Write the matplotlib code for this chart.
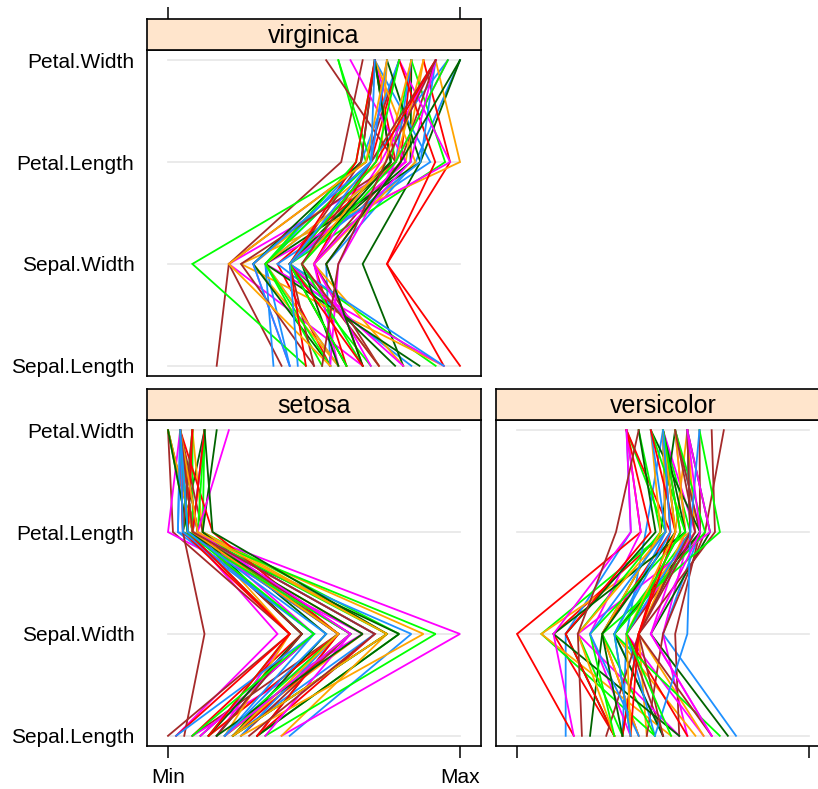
"""Parallel coordinates of the iris data, one panel per species (lattice look)"""

import matplotlib
matplotlib.use('Agg')  # Non-GUI backend
import matplotlib.pyplot as plt

plt.rcParams['font.family'] = ['Liberation Sans', 'DejaVu Sans']

# iris measurements, rows 1..150 in the usual order
sepal_length = [
    5.1, 4.9, 4.7, 4.6, 5.0, 5.4, 4.6, 5.0, 4.4, 4.9, 5.4, 4.8, 4.8, 4.3, 5.8, 5.7, 5.4, 5.1, 5.7, 5.1,
    5.4, 5.1, 4.6, 5.1, 4.8, 5.0, 5.0, 5.2, 5.2, 4.7, 4.8, 5.4, 5.2, 5.5, 4.9, 5.0, 5.5, 4.9, 4.4, 5.1,
    5.0, 4.5, 4.4, 5.0, 5.1, 4.8, 5.1, 4.6, 5.3, 5.0,
    7.0, 6.4, 6.9, 5.5, 6.5, 5.7, 6.3, 4.9, 6.6, 5.2, 5.0, 5.9, 6.0, 6.1, 5.6, 6.7, 5.6, 5.8, 6.2, 5.6,
    5.9, 6.1, 6.3, 6.1, 6.4, 6.6, 6.8, 6.7, 6.0, 5.7, 5.5, 5.5, 5.8, 6.0, 5.4, 6.0, 6.7, 6.3, 5.6, 5.5,
    5.5, 6.1, 5.8, 5.0, 5.6, 5.7, 5.7, 6.2, 5.1, 5.7,
    6.3, 5.8, 7.1, 6.3, 6.5, 7.6, 4.9, 7.3, 6.7, 7.2, 6.5, 6.4, 6.8, 5.7, 5.8, 6.4, 6.5, 7.7, 7.7, 6.0,
    6.9, 5.6, 7.7, 6.3, 6.7, 7.2, 6.2, 6.1, 6.4, 7.2, 7.4, 7.9, 6.4, 6.3, 6.1, 7.7, 6.3, 6.4, 6.0, 6.9,
    6.7, 6.9, 5.8, 6.8, 6.7, 6.7, 6.3, 6.5, 6.2, 5.9,
]
sepal_width = [
    3.5, 3.0, 3.2, 3.1, 3.6, 3.9, 3.4, 3.4, 2.9, 3.1, 3.7, 3.4, 3.0, 3.0, 4.0, 4.4, 3.9, 3.5, 3.8, 3.8,
    3.4, 3.7, 3.6, 3.3, 3.4, 3.0, 3.4, 3.5, 3.4, 3.2, 3.1, 3.4, 4.1, 4.2, 3.1, 3.2, 3.5, 3.6, 3.0, 3.4,
    3.5, 2.3, 3.2, 3.5, 3.8, 3.0, 3.8, 3.2, 3.7, 3.3,
    3.2, 3.2, 3.1, 2.3, 2.8, 2.8, 3.3, 2.4, 2.9, 2.7, 2.0, 3.0, 2.2, 2.9, 2.9, 3.1, 3.0, 2.7, 2.2, 2.5,
    3.2, 2.8, 2.5, 2.8, 2.9, 3.0, 2.8, 3.0, 2.9, 2.6, 2.4, 2.4, 2.7, 2.7, 3.0, 3.4, 3.1, 2.3, 3.0, 2.5,
    2.6, 3.0, 2.6, 2.3, 2.7, 3.0, 2.9, 2.9, 2.5, 2.8,
    3.3, 2.7, 3.0, 2.9, 3.0, 3.0, 2.5, 2.9, 2.5, 3.6, 3.2, 2.7, 3.0, 2.5, 2.8, 3.2, 3.0, 3.8, 2.6, 2.2,
    3.2, 2.8, 2.8, 2.7, 3.3, 3.2, 2.8, 3.0, 2.8, 3.0, 2.8, 3.8, 2.8, 2.8, 2.6, 3.0, 3.4, 3.1, 3.0, 3.1,
    3.1, 3.1, 2.7, 3.2, 3.3, 3.0, 2.5, 3.0, 3.4, 3.0,
]
petal_length = [
    1.4, 1.4, 1.3, 1.5, 1.4, 1.7, 1.4, 1.5, 1.4, 1.5, 1.5, 1.6, 1.4, 1.1, 1.2, 1.5, 1.3, 1.4, 1.7, 1.5,
    1.7, 1.5, 1.0, 1.7, 1.9, 1.6, 1.6, 1.5, 1.4, 1.6, 1.6, 1.5, 1.5, 1.4, 1.5, 1.2, 1.3, 1.4, 1.3, 1.5,
    1.3, 1.3, 1.3, 1.6, 1.9, 1.4, 1.6, 1.4, 1.5, 1.4,
    4.7, 4.5, 4.9, 4.0, 4.6, 4.5, 4.7, 3.3, 4.6, 3.9, 3.5, 4.2, 4.0, 4.7, 3.6, 4.4, 4.5, 4.1, 4.5, 3.9,
    4.8, 4.0, 4.9, 4.7, 4.3, 4.4, 4.8, 5.0, 4.5, 3.5, 3.8, 3.7, 3.9, 5.1, 4.5, 4.5, 4.7, 4.4, 4.1, 4.0,
    4.4, 4.6, 4.0, 3.3, 4.2, 4.2, 4.2, 4.3, 3.0, 4.1,
    6.0, 5.1, 5.9, 5.6, 5.8, 6.6, 4.5, 6.3, 5.8, 6.1, 5.1, 5.3, 5.5, 5.0, 5.1, 5.3, 5.5, 6.7, 6.9, 5.0,
    5.7, 4.9, 6.7, 4.9, 5.7, 6.0, 4.8, 4.9, 5.6, 5.8, 6.1, 6.4, 5.6, 5.1, 5.6, 6.1, 5.6, 5.5, 4.8, 5.4,
    5.6, 5.1, 5.1, 5.9, 5.7, 5.2, 5.0, 5.2, 5.4, 5.1,
]
petal_width = [
    0.2, 0.2, 0.2, 0.2, 0.2, 0.4, 0.3, 0.2, 0.2, 0.1, 0.2, 0.2, 0.1, 0.1, 0.2, 0.4, 0.4, 0.3, 0.3, 0.3,
    0.2, 0.4, 0.2, 0.5, 0.2, 0.2, 0.4, 0.2, 0.2, 0.2, 0.2, 0.4, 0.1, 0.2, 0.2, 0.2, 0.2, 0.1, 0.2, 0.2,
    0.3, 0.3, 0.2, 0.6, 0.4, 0.3, 0.2, 0.2, 0.2, 0.2,
    1.4, 1.5, 1.5, 1.3, 1.5, 1.3, 1.6, 1.0, 1.3, 1.4, 1.0, 1.5, 1.0, 1.4, 1.3, 1.4, 1.5, 1.0, 1.5, 1.1,
    1.8, 1.3, 1.5, 1.2, 1.3, 1.4, 1.4, 1.7, 1.5, 1.0, 1.1, 1.0, 1.2, 1.6, 1.5, 1.6, 1.5, 1.3, 1.3, 1.3,
    1.2, 1.4, 1.2, 1.0, 1.3, 1.2, 1.3, 1.3, 1.1, 1.3,
    2.5, 1.9, 2.1, 1.8, 2.2, 2.1, 1.7, 1.8, 1.8, 2.5, 2.0, 1.9, 2.1, 2.0, 2.4, 2.3, 1.8, 2.2, 2.3, 1.5,
    2.3, 2.0, 2.0, 1.8, 2.1, 1.8, 1.8, 1.8, 2.1, 1.6, 1.9, 2.0, 2.2, 1.5, 1.4, 2.3, 2.4, 1.8, 1.8, 2.1,
    2.4, 2.3, 1.9, 2.3, 2.5, 2.3, 1.9, 2.0, 2.3, 1.8,
]
species = ['setosa'] * 50 + ['versicolor'] * 50 + ['virginica'] * 50

var_names = ['Sepal.Length', 'Sepal.Width', 'Petal.Length', 'Petal.Width']
line_colors = ['#1E90FF', '#FF00FF', '#006400', '#FF0000', '#FFA500', '#00FF00', '#A52A2A']
strip_color = '#FFE5CC'

W, H = 818, 789
PANEL_W, PANEL_H, STRIP_H = 334, 326, 31
# (left, panel top) in pixels
panel_pos = {
    'virginica': (147, 50),
    'setosa': (147, 420),
    'versicolor': (496, 420),
}

columns = [sepal_length, sepal_width, petal_length, petal_width]
mins = [min(c) for c in columns]
maxs = [max(c) for c in columns]

fig = plt.figure(figsize=(W / 100, H / 100), dpi=100)

XLIM = (-0.072, 1.072)
YLIM = (0.9, 4.1)

for sp, (left, top) in panel_pos.items():
    ax = fig.add_axes([left / W, 1 - (top + PANEL_H) / H, PANEL_W / W, PANEL_H / H])
    st = fig.add_axes([left / W, 1 - top / H, PANEL_W / W, STRIP_H / H])

    ypos = [1, 2, 3, 4]
    for y in ypos:
        ax.plot([0, 1], [y, y], color='#E6E6E6', lw=1.2, zorder=1)

    rows = [i for i, s in enumerate(species) if s == sp]
    for j, i in enumerate(rows):
        xs = [(columns[k][i] - mins[k]) / (maxs[k] - mins[k]) for k in range(4)]
        ax.plot(xs, ypos, color=line_colors[j % len(line_colors)], lw=1.3,
                solid_joinstyle='miter', zorder=2)

    ax.set_xlim(*XLIM)
    ax.set_ylim(*YLIM)
    for s in ax.spines.values():
        s.set_linewidth(1.2)

    # y labels only on the left column
    if left == 147:
        ax.set_yticks(ypos)
        ax.set_yticklabels(var_names, fontsize=15)
        ax.tick_params(axis='y', length=0, pad=9)
    else:
        ax.set_yticks([])

    # bottom row gets ticks below, top row above its strip
    ax.tick_params(axis='x', direction='out', length=8.5, width=1.1)
    if sp == 'virginica':
        ax.set_xticks([])
        st.set_xlim(*XLIM)
        st.set_xticks([0, 1])
        st.set_xticklabels([])
        st.tick_params(axis='x', top=True, bottom=False, direction='out', length=8.5, width=1.1)
    else:
        ax.set_xticks([0, 1])
        if sp == 'setosa':
            ax.set_xticklabels(['Min', 'Max'], fontsize=15)
            ax.tick_params(axis='x', pad=7)
        else:
            ax.set_xticklabels([])
        st.set_xticks([])
    st.set_yticks([])

    st.set_facecolor(strip_color)
    for s in st.spines.values():
        s.set_linewidth(1.2)
    st.text(0.5, 0.45, sp, transform=st.transAxes, ha='center', va='center', fontsize=18)

fig.savefig('out.png', dpi=100)
plt.close(fig)
